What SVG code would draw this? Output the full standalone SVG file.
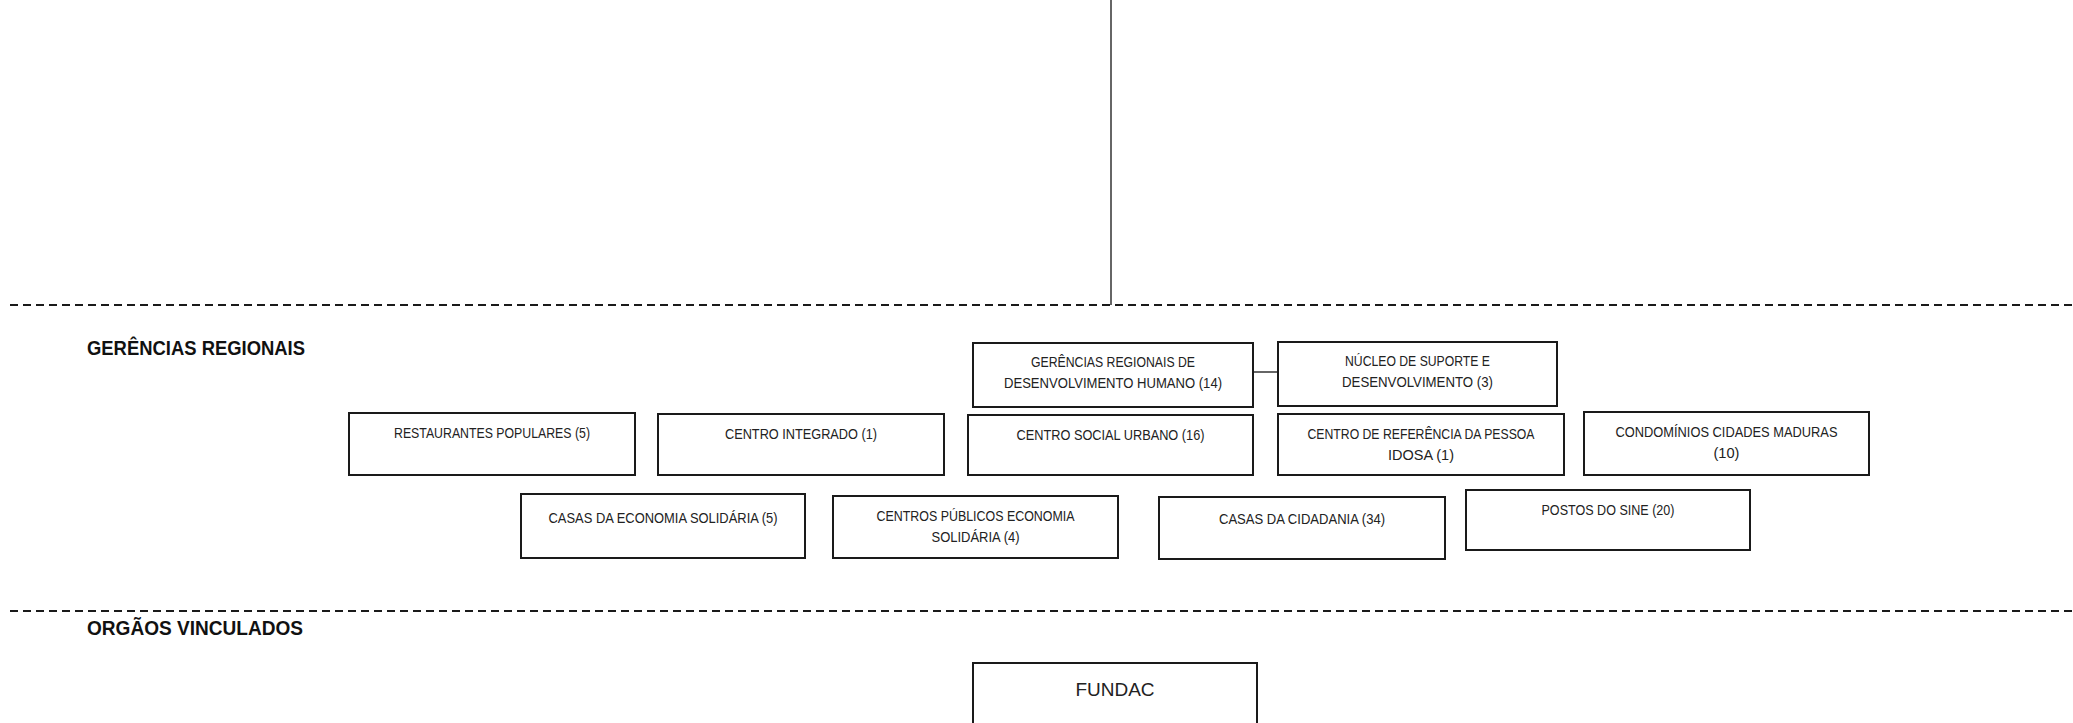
<svg xmlns="http://www.w3.org/2000/svg" width="2073" height="723" viewBox="0 0 2073 723">
<style>
.bg{fill:#ffffff}
.box{fill:#ffffff;stroke:#1a1a1a;stroke-width:2}
.lbl{font-family:"Liberation Sans",Arial,sans-serif;font-size:14.5px;fill:#222222;text-anchor:middle}
.big{font-family:"Liberation Sans",Arial,sans-serif;font-size:19px;fill:#222222;text-anchor:middle}
.head{font-family:"Liberation Sans",Arial,sans-serif;font-size:20px;font-weight:bold;fill:#111111}
.dash{stroke:#1a1a1a;stroke-width:2;stroke-dasharray:8 5;fill:none}
.conn{stroke:#333333;stroke-width:1.5;fill:none}
</style>
<rect class="bg" x="0" y="0" width="2073" height="723"/>
<g id="separators">
<line class="dash" x1="10" y1="305" x2="2073" y2="305"/>
<line class="dash" x1="10" y1="611" x2="2073" y2="611"/>
</g>
<g id="section-labels">
<text class="head" x="87" y="355" textLength="218" lengthAdjust="spacingAndGlyphs">GERÊNCIAS REGIONAIS</text>
<text class="head" x="87" y="635" textLength="216" lengthAdjust="spacingAndGlyphs">ORGÃOS VINCULADOS</text>
</g>
<g id="connectors">
<line class="conn" x1="1111" y1="0" x2="1111" y2="305"/>
<line class="conn" x1="1253" y1="372" x2="1278" y2="372"/>
</g>
<g id="gerencias-regionais-dh">
<rect class="box" x="973" y="343" width="280" height="64"/>
<text class="lbl" x="1113" y="367" textLength="164" lengthAdjust="spacingAndGlyphs">GERÊNCIAS REGIONAIS DE</text>
<text class="lbl" x="1113" y="388" textLength="218" lengthAdjust="spacingAndGlyphs">DESENVOLVIMENTO HUMANO (14)</text>
</g>
<g id="nucleo-suporte">
<rect class="box" x="1278" y="342" width="279" height="64"/>
<text class="lbl" x="1417.5" y="366" textLength="145" lengthAdjust="spacingAndGlyphs">NÚCLEO DE SUPORTE E</text>
<text class="lbl" x="1417.5" y="387" textLength="151" lengthAdjust="spacingAndGlyphs">DESENVOLVIMENTO (3)</text>
</g>
<g id="restaurantes-populares">
<rect class="box" x="349" y="413" width="286" height="62"/>
<text class="lbl" x="492" y="438" textLength="196" lengthAdjust="spacingAndGlyphs">RESTAURANTES POPULARES (5)</text>
</g>
<g id="centro-integrado">
<rect class="box" x="658" y="414" width="286" height="61"/>
<text class="lbl" x="801" y="439" textLength="152" lengthAdjust="spacingAndGlyphs">CENTRO INTEGRADO (1)</text>
</g>
<g id="centro-social-urbano">
<rect class="box" x="968" y="415" width="285" height="60"/>
<text class="lbl" x="1110.5" y="440" textLength="188" lengthAdjust="spacingAndGlyphs">CENTRO SOCIAL URBANO (16)</text>
</g>
<g id="centro-referencia-idosa">
<rect class="box" x="1278" y="414" width="286" height="61"/>
<text class="lbl" x="1421" y="439" textLength="227" lengthAdjust="spacingAndGlyphs">CENTRO DE REFERÊNCIA DA PESSOA</text>
<text class="lbl" x="1421" y="460" textLength="66" lengthAdjust="spacingAndGlyphs">IDOSA (1)</text>
</g>
<g id="condominios-cidades-maduras">
<rect class="box" x="1584" y="412" width="285" height="63"/>
<text class="lbl" x="1726.5" y="437" textLength="222" lengthAdjust="spacingAndGlyphs">CONDOMÍNIOS CIDADES MADURAS</text>
<text class="lbl" x="1726.5" y="458" textLength="26" lengthAdjust="spacingAndGlyphs">(10)</text>
</g>
<g id="casas-economia-solidaria">
<rect class="box" x="521" y="494" width="284" height="64"/>
<text class="lbl" x="663" y="523" textLength="229" lengthAdjust="spacingAndGlyphs">CASAS DA ECONOMIA SOLIDÁRIA (5)</text>
</g>
<g id="centros-publicos-economia-solidaria">
<rect class="box" x="833" y="496" width="285" height="62"/>
<text class="lbl" x="975.5" y="521" textLength="198" lengthAdjust="spacingAndGlyphs">CENTROS PÚBLICOS ECONOMIA</text>
<text class="lbl" x="975.5" y="542" textLength="88" lengthAdjust="spacingAndGlyphs">SOLIDÁRIA (4)</text>
</g>
<g id="casas-cidadania">
<rect class="box" x="1159" y="497" width="286" height="62"/>
<text class="lbl" x="1302" y="524" textLength="166" lengthAdjust="spacingAndGlyphs">CASAS DA CIDADANIA (34)</text>
</g>
<g id="postos-sine">
<rect class="box" x="1466" y="490" width="284" height="60"/>
<text class="lbl" x="1608" y="515" textLength="133" lengthAdjust="spacingAndGlyphs">POSTOS DO SINE (20)</text>
</g>
<g id="fundac">
<rect class="box" x="973" y="663" width="284" height="80"/>
<text class="big" x="1115" y="696">FUNDAC</text>
</g>
</svg>
